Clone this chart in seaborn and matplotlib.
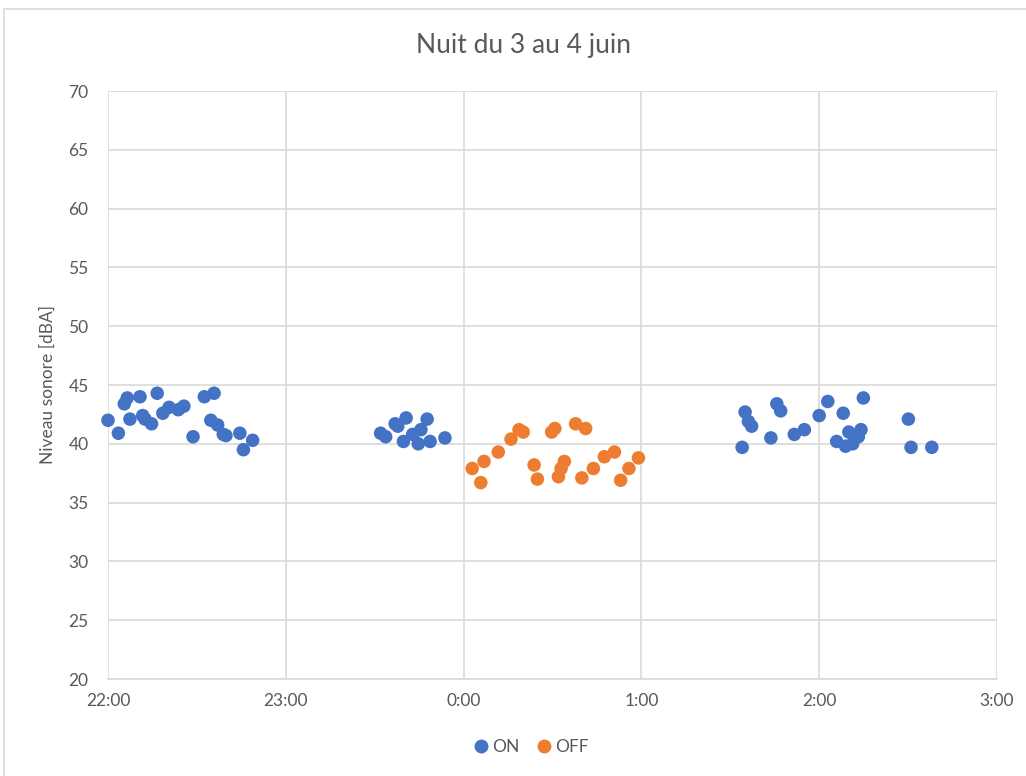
import matplotlib
matplotlib.use("Agg")
import matplotlib.pyplot as plt
import seaborn as sns
import pandas as pd
from matplotlib.patches import Rectangle

# minutes after 22:00
on_minutes = [0.0, 3.5, 5.5, 6.5, 7.4, 10.8, 11.7, 12.5, 14.7, 16.6, 18.5, 20.6,
              23.7, 25.6, 28.7, 32.5, 35.8, 34.7, 37.0, 38.9, 39.8, 44.5, 45.7, 48.8,
              92.0, 93.7, 96.9, 97.8, 100.6, 99.7, 102.8, 105.6, 104.7, 107.7, 108.7, 113.7,
              214.0, 215.0, 216.1, 217.2, 223.7, 225.7, 227.0, 231.6, 235.0, 240.0,
              242.9, 245.9, 248.1, 248.9, 250.0, 251.3, 253.2, 254.1, 254.9,
              270.1, 271.0, 278.0]
on_levels = [42.0, 40.9, 43.4, 43.9, 42.1, 44.0, 42.4, 42.1, 41.7, 44.3, 42.6, 43.1,
             42.9, 43.2, 40.6, 44.0, 44.3, 42.0, 41.6, 40.8, 40.7, 40.9, 39.5, 40.3,
             40.9, 40.6, 41.7, 41.5, 42.2, 40.2, 40.8, 41.2, 40.0, 42.1, 40.2, 40.5,
             39.7, 42.7, 41.9, 41.5, 40.5, 43.4, 42.8, 40.8, 41.2, 42.4,
             43.6, 40.2, 42.6, 39.8, 41.0, 40.0, 40.6, 41.2, 43.9,
             42.1, 39.7, 39.7]
off_minutes = [122.9, 125.8, 126.9, 131.7, 136.0, 138.7, 140.1, 143.8, 144.9, 149.7,
               150.8, 152.0, 152.9, 154.0, 157.8, 161.2, 159.9, 163.8, 167.5, 170.9,
               173.0, 175.8, 179.0]
off_levels = [37.9, 36.7, 38.5, 39.3, 40.4, 41.2, 41.0, 38.2, 37.0, 41.0,
              41.3, 37.2, 37.9, 38.5, 41.7, 41.3, 37.1, 37.9, 38.9, 39.3,
              36.9, 37.9, 38.8]
series = ["ON", "OFF"]
colors = ["#4472C4", "#ED7D31"]
tick_minutes = [0, 60, 120, 180, 240, 300]
tick_labels = ["22:00", "23:00", "0:00", "1:00", "2:00", "3:00"]
y_ticks = [20, 25, 30, 35, 40, 45, 50, 55, 60, 65, 70]

df = pd.DataFrame({
    "t": on_minutes + off_minutes,
    "level": on_levels + off_levels,
    "state": ["ON"] * len(on_minutes) + ["OFF"] * len(off_minutes),
})

sns.set_style("white")
plt.rcParams["font.family"] = ["Lato", "DejaVu Sans"]

fig = plt.figure(figsize=(10.26, 7.76), dpi=100)
ax = fig.add_axes([108 / 1026, 1 - 679 / 776, (997 - 108) / 1026, (679 - 91) / 776])

fig.patches.append(Rectangle((4 / 1026, -0.01), 1.1, 1 - 9 / 776 + 0.01,
                             transform=fig.transFigure, fill=False,
                             edgecolor="#d9d9d9", linewidth=1.2))

sns.scatterplot(data=df, x="t", y="level", hue="state", hue_order=series,
                palette=dict(zip(series, colors)), s=95, edgecolor="none",
                ax=ax, legend=False, clip_on=False, zorder=3)

ax.set_xlim(tick_minutes[0], tick_minutes[-1])
ax.set_ylim(20, 70)
ax.set_xticks(tick_minutes)
ax.set_xticklabels(tick_labels)
ax.set_yticks(y_ticks)
ax.grid(True, color="#d9d9d9", linewidth=1.2)
ax.set_axisbelow(True)
for s in ["top", "right", "left"]:
    ax.spines[s].set_visible(False)
ax.spines["bottom"].set_color("#d9d9d9")
ax.spines["bottom"].set_linewidth(1.2)
ax.tick_params(axis="both", length=0, labelsize=12.5, colors="#595959", pad=10)
ax.tick_params(axis="y", pad=14)
ax.set_xlabel("")
ax.set_ylabel("Niveau sonore [dBA]", fontsize=12.5, color="#595959", labelpad=9)

fig.text(524 / 1026, 1 - 46 / 776, "Nuit du 3 au 4 juin", ha="center", va="center",
         fontsize=19, color="#595959")

handles = [plt.Line2D([], [], marker="o", linestyle="none", markersize=10,
                      markerfacecolor=c, markeredgecolor="none") for c in colors]
fig.legend(handles, series, loc="center", bbox_to_anchor=(530 / 1026, 1 - 747 / 776),
           ncol=2, frameon=False, fontsize=12.5, labelcolor="#595959",
           handletextpad=0.05, columnspacing=0.8, handlelength=1.2)

fig.savefig("out.png", dpi=100)
